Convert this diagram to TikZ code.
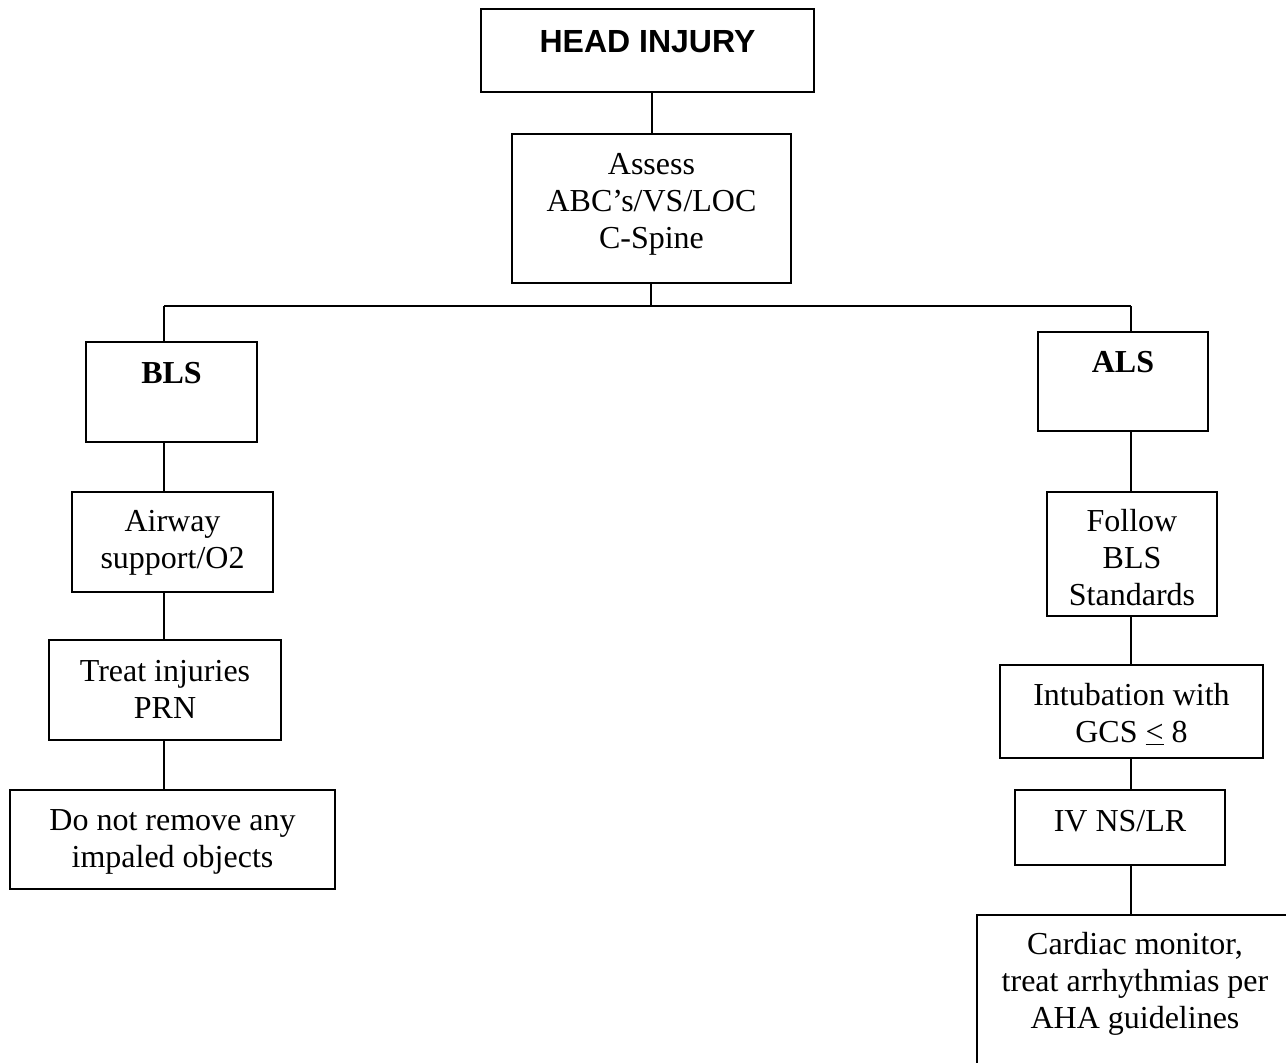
\documentclass[tikz,border=0pt]{standalone}
\usepackage{fontspec}
\setmainfont{Liberation Serif}
\newfontfamily\headfont{Liberation Sans}
\usetikzlibrary{positioning}

\begin{document}
\begin{tikzpicture}[x=0.5pt,y=-0.5pt,line width=1pt,
  every node/.style={font=\fontsize{16}{18.5}\selectfont},
  box/.style={draw,inner sep=0pt},
  lbl/.style={inner sep=0pt,align=center,anchor=base}]
\useasboundingbox (0,0) rectangle (1286,1062);
\clip (0,0) rectangle (1286,1062);
% boxes (sizes in pt, half the pixel size)
\node[box,minimum width=166.5pt,minimum height=41.5pt] (head) at (647.5,50.5) {};
\node[box,minimum width=139.5pt,minimum height=74.5pt] (assess) at (651.5,208.5) {};
\node[box,minimum width=85.5pt,minimum height=50pt] (bls) at (171.5,392) {};
\node[box,minimum width=85pt,minimum height=49.5pt] (als) at (1123,381.5) {};
\node[box,minimum width=100.5pt,minimum height=50pt] (airway) at (172.5,542) {};
\node[box,minimum width=116pt,minimum height=50pt] (treat) at (165,690) {};
\node[box,minimum width=162.5pt,minimum height=49.5pt] (impaled) at (172.5,839.5) {};
\node[box,minimum width=85pt,minimum height=62pt] (follow) at (1132,554) {};
\node[box,minimum width=131.5pt,minimum height=46.5pt] (intub) at (1131.5,711.5) {};
\node[box,minimum width=105pt,minimum height=37.5pt] (ivfluid) at (1120,827.5) {};
\node[box,minimum width=158pt,minimum height=82.5pt] (cardiac) at (1135,997.5) {};
% texts (anchored at the baseline of the last line)
\node[lbl] (head-t) at (647.5,52) {\headfont\bfseries HEAD INJURY};
\node[lbl] (assess-t) at (651.5,248) {Assess\\ABC’s/VS/LOC\\C-Spine};
\node[lbl] (bls-t) at (171.5,383) {\bfseries BLS};
\node[lbl] (als-t) at (1123,372) {\bfseries ALS};
\node[lbl] (airway-t) at (172.5,568) {Airway\\support/O2};
\node[lbl] (treat-t) at (165,718) {Treat injuries\\PRN};
\node[lbl] (impaled-t) at (172.5,867) {Do not remove any\\impaled objects};
\node[lbl] (follow-t) at (1132,605) {Follow\\BLS\\Standards};
\node[lbl] (intub-t) at (1131.5,742) {Intubation with\\GCS \underline{<} 8};
\node[lbl] (ivfluid-t) at (1120,831) {IV NS/LR};
\node[lbl] (cardiac-t) at (1135,1028) {Cardiac monitor,\\treat arrhythmias per\\AHA guidelines};
% connectors
\coordinate (bar) at (651,306);
\coordinate (barL) at (164,306);
\coordinate (barR) at (1131,306);
\draw (head.south -| assess.north) -- (assess.north);
\draw (assess.south -| bar) -- (bar);
\draw (barL) -- (barR);
\draw (barL) -- (barL |- bls.north);
\draw (barR) -- (barR |- als.north);
\draw (barL |- bls.south) -- (barL |- airway.north);
\draw (barL |- airway.south) -- (barL |- treat.north);
\draw (barL |- treat.south) -- (barL |- impaled.north);
\draw (barR |- als.south) -- (barR |- follow.north);
\draw (barR |- follow.south) -- (barR |- intub.north);
\draw (barR |- intub.south) -- (barR |- ivfluid.north);
\draw (barR |- ivfluid.south) -- (barR |- cardiac.north);
\end{tikzpicture}
\end{document}
